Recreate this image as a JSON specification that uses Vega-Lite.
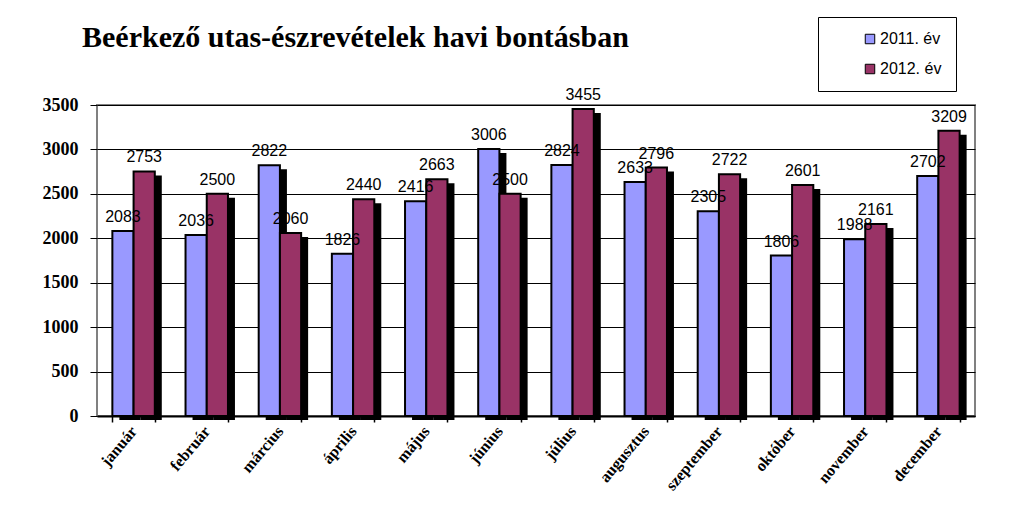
{
  "$schema": "https://vega.github.io/schema/vega-lite/v6.json",
  "width": 878,
  "height": 311,
  "autosize": {"type": "none"},
  "padding": {"left": 97, "top": 105, "right": 34, "bottom": 108},
  "background": "white",
  "title": {
    "text": "Beérkező utas-észrevételek havi bontásban",
    "anchor": "start",
    "frame": "group",
    "dx": -15,
    "offset": -36,
    "font": "Liberation Serif",
    "fontSize": 30,
    "fontWeight": "bold",
    "color": "black"
  },
  "config": {
    "view": {"stroke": "#808080", "strokeWidth": 2, "fill": "white"}
  },
  "data": {
    "values": [
      {"honap": "január", "ev": "2011. év", "db": 2083},
      {"honap": "január", "ev": "2012. év", "db": 2753},
      {"honap": "február", "ev": "2011. év", "db": 2036},
      {"honap": "február", "ev": "2012. év", "db": 2500},
      {"honap": "március", "ev": "2011. év", "db": 2822},
      {"honap": "március", "ev": "2012. év", "db": 2060},
      {"honap": "április", "ev": "2011. év", "db": 1826},
      {"honap": "április", "ev": "2012. év", "db": 2440},
      {"honap": "május", "ev": "2011. év", "db": 2416},
      {"honap": "május", "ev": "2012. év", "db": 2663},
      {"honap": "június", "ev": "2011. év", "db": 3006},
      {"honap": "június", "ev": "2012. év", "db": 2500},
      {"honap": "július", "ev": "2011. év", "db": 2824},
      {"honap": "július", "ev": "2012. év", "db": 3455},
      {"honap": "augusztus", "ev": "2011. év", "db": 2633},
      {"honap": "augusztus", "ev": "2012. év", "db": 2796},
      {"honap": "szeptember", "ev": "2011. év", "db": 2305},
      {"honap": "szeptember", "ev": "2012. év", "db": 2722},
      {"honap": "október", "ev": "2011. év", "db": 1806},
      {"honap": "október", "ev": "2012. év", "db": 2601},
      {"honap": "november", "ev": "2011. év", "db": 1988},
      {"honap": "november", "ev": "2012. év", "db": 2161},
      {"honap": "december", "ev": "2011. év", "db": 2702},
      {"honap": "december", "ev": "2012. év", "db": 3209}
    ]
  },
  "encoding": {
    "x": {
      "field": "honap",
      "type": "nominal",
      "sort": null,
      "scale": {"paddingInner": 0.42, "paddingOuter": 0.21},
      "axis": {
        "title": null,
        "labelAngle": -50,
        "labelAlign": "right",
        "labelBaseline": "middle",
        "labelFont": "Liberation Serif",
        "labelFontSize": 16,
        "labelFontWeight": "bold",
        "labelColor": "black",
        "labelPadding": 6,
        "tickBand": "extent",
        "tickColor": "black",
        "tickSize": 6,
        "tickWidth": 1.5,
        "domainColor": "black",
        "domainWidth": 2,
        "zindex": 1
      }
    },
    "y": {
      "field": "db",
      "type": "quantitative",
      "scale": {"domain": [0, 3500], "nice": false},
      "axis": {
        "title": null,
        "format": "d",
        "values": [0, 500, 1000, 1500, 2000, 2500, 3000, 3500],
        "labelFont": "Liberation Serif",
        "labelFontSize": 18,
        "labelFontWeight": "bold",
        "labelColor": "black",
        "labelPadding": 12,
        "tickColor": "black",
        "tickSize": 7,
        "gridColor": "black",
        "gridWidth": 1.2,
        "gridOpacity": 1,
        "domain": false
      }
    }
  },
  "layer": [
    {
      "transform": [{"filter": "datum.ev === '2011. év'"}],
      "mark": {"type": "bar", "color": "black", "width": {"band": 0.5}, "xOffset": -3.6, "yOffset": 4, "y2Offset": -4},
      "encoding": {}
    },
    {
      "transform": [{"filter": "datum.ev === '2012. év'"}],
      "mark": {"type": "bar", "color": "black", "width": {"band": 0.5}, "xOffset": 17.6, "yOffset": 4, "y2Offset": -4},
      "encoding": {}
    },
    {
      "mark": {"type": "bar", "stroke": "black", "strokeWidth": 2},
      "encoding": {
        "xOffset": {"field": "ev", "type": "nominal"},
        "color": {
          "field": "ev",
          "type": "nominal",
          "scale": {"domain": ["2011. év", "2012. év"], "range": ["#9999FF", "#993366"]},
          "legend": {
            "title": null,
            "orient": "none",
            "legendX": 721,
            "legendY": -88,
            "direction": "vertical",
            "padding": 14,
            "rowPadding": 14,
            "strokeColor": "black",
            "fillColor": "white",
            "labelFont": "Liberation Sans",
            "labelFontSize": 16,
            "labelColor": "black",
            "labelLimit": 200,
            "symbolType": "square",
            "symbolSize": 90,
            "symbolStrokeColor": "black",
            "symbolStrokeWidth": 1,
            "symbolOffset": 30,
            "labelOffset": 2
          }
        }
      }
    },
    {
      "mark": {"type": "text", "dy": -14, "font": "Liberation Sans", "fontSize": 16, "color": "black"},
      "encoding": {
        "xOffset": {"field": "ev", "type": "nominal"},
        "text": {"field": "db", "type": "quantitative"}
      }
    }
  ]
}
